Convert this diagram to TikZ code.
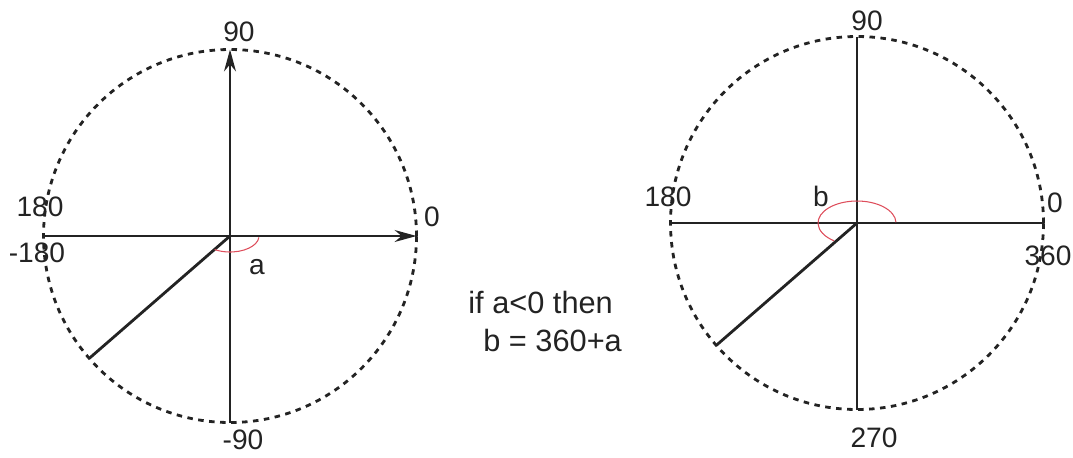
\documentclass[tikz,border=0pt]{standalone}
\usepackage{fontspec}
\setmainfont{Liberation Sans}
\usepackage{tikz}
\usetikzlibrary{arrows.meta, calc}
\usepackage{xcolor}
\definecolor{inkgray}{RGB}{35, 35, 35}
\definecolor{arcred}{RGB}{222, 78, 92}

\begin{document}
\begin{tikzpicture}[
  ring/.style={draw=inkgray, line width=1.6pt, dash pattern=on 0.11cm off 0.11cm},
  axis/.style={draw=inkgray, line width=0.7pt},
  axarrow/.style={axis, -{Stealth[length=0.44cm, width=0.24cm]}},
  ray/.style={draw=inkgray, line width=1.6pt},
  angarc/.style={draw=arcred, line width=0.6pt},
  lbl/.style={font=\fontsize{16}{19}\selectfont, text=inkgray, inner sep=0pt},
  note/.style={font=\fontsize{17.5}{21}\selectfont, text=inkgray, inner sep=0pt, anchor=base west},
]
\useasboundingbox (0,0) rectangle (21.46,-9.14);

%% Centres and points on the circles
\coordinate (o1) at (4.60,-4.72);
\coordinate (o2) at (17.14,-4.46);
\foreach \o in {o1, o2} {
  \draw[ring] (\o) circle (3.73);
  \path (\o) +(0:3.73) coordinate (\o e) +(90:3.73) coordinate (\o n)
             +(180:3.73) coordinate (\o w) +(270:3.73) coordinate (\o s)
             +(221:3.73) coordinate (\o r);
}

%% Left circle: angle a
\draw[axarrow] (o1w) -- (o1e);
\draw[axarrow] (o1s) -- (o1n);
\draw[ray] (o1) -- (o1r);
\draw[angarc] (o1) ++(-5:0.58 and 0.32) arc[start angle=-5, end angle=-122, x radius=0.58, y radius=0.32];

\node[lbl] (l90)   at (4.78,-0.64) {90};
\node[lbl] (l180)  at (0.80,-4.14) {180};
\node[lbl] (lm180) at (0.74,-5.06) {-180};
\node[lbl] (l0)    at (8.64,-4.34) {0};
\node[lbl] (lm90)  at (4.86,-8.80) {-90};
\node[lbl] (la)    at (5.14,-5.34) {a};

%% Right circle: angle b
\draw[axis] (o2w) -- (o2e);
\draw[axis] (o2s) -- (o2n);
\draw[ray] (o2) -- (o2r);
\draw[angarc] (o2) ++(2:0.78 and 0.44) arc[start angle=2, end angle=234, x radius=0.78, y radius=0.44];

\node[lbl] (r90)  at (17.34,-0.42) {90};
\node[lbl] (r180) at (13.36,-3.94) {180};
\node[lbl] (r0)   at (21.10,-4.06) {0};
\node[lbl] (r360) at (20.96,-5.12) {360};
\node[lbl] (r270) at (17.48,-8.76) {270};
\node[lbl] (rb)   at (16.42,-3.92) {b};

%% Rule
\node[note] (cond) at (9.36,-6.26) {if a<0 then};
\node[note] (calc) at (9.66,-7.02) {b = 360+a};

\end{tikzpicture}
\end{document}
